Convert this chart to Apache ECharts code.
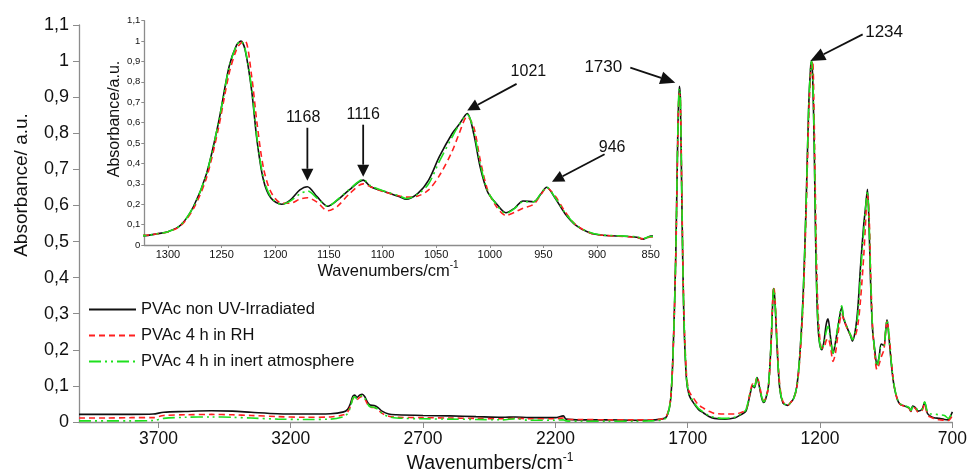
<!DOCTYPE html>
<html><head><meta charset="utf-8">
<script src="https://cdn.jsdelivr.net/npm/echarts@6/dist/echarts.min.js"></script>
<style>html,body{margin:0;padding:0;background:#fff}#c{width:970px;height:474px}</style>
</head><body><div id="c"></div>
<script>
// wavenumbers (cm-1)
const wn = [4000,3900,3800,3720,3680,3600,3500,3420,3350,3250,3150,3050,3000,2985,2975,2965,2958,2950,2940,2930,2920,2910,2900,2885,2870,2855,2830,2800,2700,2600,2500,2400,2350,2300,2200,2170,2160,2100,2000,1900,1850,1800,1780,1765,1755,1745,1738,1732,1728,1722,1715,1705,1695,1680,1660,1640,1620,1600,1560,1520,1500,1480,1465,1455,1448,1438,1430,1420,1413,1405,1395,1385,1378,1375,1370,1362,1352,1340,1330,1322,1310,1300,1288,1276,1264,1253,1243,1236,1232,1228,1222,1217,1211,1204,1194,1186,1177,1170,1161,1151,1142,1131,1118,1111,1097,1084,1078,1067,1057,1047,1035,1029,1021,1015,1009,1002,994,985,977,969,959,952,947,939,930,920,907,897,880,863,857,850,840,830,815,805,795,785,770,750,730,715,705,700];
const absNonUV = [.021,.021,.021,.022,.027,.029,.031,.030,.027,.023,.022,.023,.028,.035,.050,.072,.075,.068,.074,.077,.070,.055,.047,.046,.040,.030,.022,.020,.018,.017,.015,.013,.014,.012,.012,.017,.008,.006,.006,.005,.005,.008,.015,.060,.200,.470,.780,.930,.900,.600,.300,.120,.075,.055,.035,.025,.015,.010,.008,.012,.020,.030,.075,.100,.095,.123,.100,.065,.054,.065,.100,.220,.350,.370,.330,.200,.090,.052,.048,.046,.055,.065,.098,.190,.350,.596,.874,.980,1.000,.956,.760,.515,.320,.230,.200,.220,.270,.286,.237,.190,.220,.270,.318,.286,.260,.237,.224,.253,.318,.433,.547,.588,.645,.547,.384,.260,.204,.158,.180,.216,.212,.253,.283,.229,.155,.098,.060,.049,.044,.038,.029,.044,.040,.030,.035,.054,.025,.017,.012,.010,.007,.006,.020,.028];
const absRH = [.011,.011,.012,.012,.018,.020,.021,.020,.018,.015,.013,.014,.020,.028,.043,.065,.068,.062,.068,.071,.064,.050,.041,.040,.034,.024,.016,.013,.012,.011,.010,.009,.010,.009,.009,.011,.007,.007,.006,.006,.006,.008,.016,.062,.200,.460,.760,.910,.900,.620,.320,.135,.085,.068,.048,.038,.030,.024,.022,.022,.026,.034,.078,.105,.100,.125,.105,.070,.058,.066,.098,.215,.355,.375,.340,.215,.100,.056,.050,.047,.055,.064,.095,.180,.330,.570,.840,.960,.990,1.000,.830,.600,.380,.260,.205,.205,.225,.232,.210,.168,.190,.250,.300,.285,.258,.240,.235,.240,.270,.340,.460,.540,.630,.580,.420,.270,.190,.145,.160,.180,.200,.250,.280,.240,.165,.100,.060,.049,.043,.037,.030,.040,.038,.028,.032,.050,.022,.014,.010,.006,.005,.004,.012,.018];
const absInert = [.003,.003,.003,.004,.010,.013,.014,.013,.011,.008,.007,.008,.015,.024,.040,.066,.070,.064,.070,.073,.066,.051,.042,.041,.035,.024,.015,.011,.009,.008,.007,.006,.009,.005,.005,.006,.003,.002,.002,.002,.003,.005,.013,.060,.200,.470,.780,.925,.905,.610,.310,.125,.078,.058,.038,.027,.018,.013,.010,.014,.022,.034,.080,.102,.098,.123,.102,.068,.056,.066,.100,.220,.350,.370,.330,.205,.092,.053,.048,.046,.055,.065,.098,.190,.350,.596,.870,.980,1.000,.960,.770,.525,.330,.235,.200,.215,.250,.265,.230,.190,.222,.272,.322,.290,.262,.240,.228,.250,.300,.410,.530,.585,.640,.560,.400,.265,.200,.155,.178,.212,.212,.255,.283,.232,.160,.100,.062,.050,.045,.040,.032,.042,.042,.032,.036,.056,.030,.023,.022,.020,.018,.010,.020,.025];
const seriesNames = ['PVAc non UV-Irradiated','PVAc 4 h in RH','PVAc 4 h in inert atmosphere'];
const mainXTicks = [3700,3200,2700,2200,1700,1200,700];
const insetXTicks = [1300,1250,1200,1150,1100,1050,1000,950,900,850];
// annotations: [label, grid, textPos, arrowStart, arrowTip]
const annotations = [
  ['1730', 0, [2019, 0.982], [1917, 0.982], [1747, 0.94]],
  ['1234', 0, [958, 1.08], [1039, 1.074], [1237, 1.0]],
  ['1168', 1, [1174, 0.625], [1170, 0.575], [1170, 0.315]],
  ['1116', 1, [1118, 0.64], [1118, 0.59], [1118, 0.335]],
  ['1021', 1, [964, 0.85], [975, 0.79], [1021, 0.66]],
  ['946', 1, [886, 0.48], [893, 0.445], [942, 0.31]]
];

const FONT = '"Liberation Sans", Arial, sans-serif';
const styles = [
  {color:'#111111', width:1.6, type:'solid'},
  {color:'#ff2020', width:1.6, type:[6,4]},
  {color:'#1ee01e', width:1.6, type:[12,4,2,4,2,4]}
];
const dataSets = [absNonUV, absRH, absInert].map(a => wn.map((w,i)=>[w, a[i]]));
const commaFmt = v => String(Math.round(v*10)/10).replace('.', ',');
const plainFmt = v => String(v);

const series = [];
[0,1].forEach(g => {
  dataSets.forEach((d, k) => {
    series.push({
      name: seriesNames[k], type:'line', xAxisIndex:g, yAxisIndex:g,
      data:d, showSymbol:false, symbol:'none', smooth:0.3, clip:true,
      lineStyle: styles[k], itemStyle:{color:styles[k].color}, z: 2+k
    });
  });
});

const axisLine = {show:true, lineStyle:{color:'#8c8c8c', width:1.3}};
const chart = echarts.init(document.getElementById('c'), null, {renderer:'canvas'});
const option = {
  animation:false,
  textStyle:{fontFamily:FONT},
  grid:[
    {left:79, top:25, width:877, height:397},
    {left:144.3, top:20.7, width:506.4, height:224.3}
  ],
  legend:{
    left:83, top:296, orient:'vertical', itemWidth:47, itemHeight:12, itemGap:9,
    data:seriesNames,
    itemStyle:{color:'rgba(0,0,0,0)', borderWidth:0, opacity:0},
    textStyle:{fontFamily:FONT, fontSize:16.5, color:'#111'}
  },
  xAxis:[
    {type:'value', gridIndex:0, min:700, max:4000, inverse:true,
     axisLine, splitLine:{show:false},
     axisTick:{show:true, length:6, lineStyle:{color:'#8c8c8c'}, customValues:mainXTicks},
     axisLabel:{fontSize:17.5, color:'#111', margin:8, customValues:mainXTicks, formatter:plainFmt, fontFamily:FONT}},
    {type:'value', gridIndex:1, min:850, max:1322, inverse:true,
     axisLine, splitLine:{show:false},
     axisTick:{show:true, length:3, lineStyle:{color:'#8c8c8c'}, customValues:insetXTicks},
     axisLabel:{fontSize:11, color:'#111', margin:4, customValues:insetXTicks, formatter:plainFmt, fontFamily:FONT}}
  ],
  yAxis:[
    {type:'value', gridIndex:0, min:0, max:1.1, interval:0.1,
     axisLine, splitLine:{show:false},
     axisTick:{show:true, length:6, lineStyle:{color:'#8c8c8c'}},
     axisLabel:{fontSize:18, color:'#111', margin:10, formatter:commaFmt, fontFamily:FONT}},
    {type:'value', gridIndex:1, min:0, max:1.1, interval:0.1,
     axisLine, splitLine:{show:false},
     axisTick:{show:true, length:3, lineStyle:{color:'#8c8c8c'}},
     axisLabel:{fontSize:9.5, color:'#111', margin:4, formatter:commaFmt, fontFamily:FONT}}
  ],
  series
};
chart.setOption(option);

function titleText(x, y, size, rotate, sup) {
  const el = {type:'text', x, y, rotation: rotate ? Math.PI/2 : 0, z:50,
    style:{textAlign:'center', textVerticalAlign:'middle', fill:'#111', font: size+'px '+FONT}};
  if (sup) {
    el.style.text = '{a|Wavenumbers/cm}{s|-1}';
    el.style.rich = {a:{fontSize:size, fontFamily:FONT, fill:'#111', lineHeight:size+6},
                     s:{fontSize:Math.round(size*0.62), fontFamily:FONT, fill:'#111', verticalAlign:'top', lineHeight:size+6}};
  } else {
    el.style.text = 'Absorbance/ a.u.';
  }
  return el;
}
const graphics = [
  titleText(22, 185, 19, true, false),
  titleText(490, 464, 19.5, false, true),
  titleText(388, 271, 16.5, false, true)
];
const insetY = titleText(115, 119, 16, true, false);
insetY.style.text = 'Absorbance/a.u.';
graphics.push(insetY);

annotations.forEach(([label, g, tp, from, to]) => {
  const P = v => chart.convertToPixel({gridIndex:g}, v);
  const t = P(tp), a = P(from), b = P(to);
  const big = g === 0;
  graphics.push({type:'text', x:t[0], y:t[1], z:60,
    style:{text:label, textAlign:'center', textVerticalAlign:'middle', fill:'#111',
           font:(big?17:16)+'px '+FONT}});
  const dx = b[0]-a[0], dy = b[1]-a[1], L = Math.hypot(dx,dy);
  const ux = dx/L, uy = dy/L;
  const hl = big ? 15 : 12, hw = big ? 6.5 : 6;
  const bx = b[0]-ux*hl, by = b[1]-uy*hl;
  graphics.push({type:'line', z:60, shape:{x1:a[0], y1:a[1], x2:bx, y2:by},
    style:{stroke:'#111', lineWidth:1.8}});
  graphics.push({type:'polygon', z:60, shape:{points:[[b[0],b[1]],[bx-uy*hw, by+ux*hw],[bx+uy*hw, by-ux*hw]]},
    style:{fill:'#111'}});
});
chart.setOption({graphic: graphics});
</script>
</body></html>
